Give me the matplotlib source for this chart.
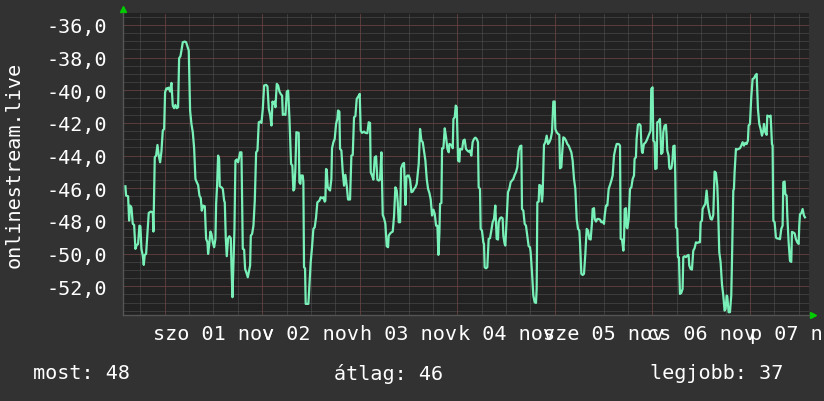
import numpy as np
import matplotlib
matplotlib.use("Agg")
import matplotlib.pyplot as plt
from matplotlib.ticker import FixedLocator, FuncFormatter

# === Data: hours since 01 nov 00:00 ===
hours = [
    -9.63, -9.46, -8.97, -8.72, -8.48, -8.15, -7.82, -7.49, -7.17, -6.84, -6.51, -6.18, -5.94, -5.69,
    -5.36, -5.12, -4.87, -4.54, -4.21, -3.89, -3.39, -2.90, -2.74, -2.41, -2.08, -1.75, -1.43, -1.10,
    -0.77, -0.44, -0.11, 0.13, 0.46, 0.71, 1.03, 1.36, 1.69, 2.02, 2.35, 2.67, 3.00, 3.33, 3.58, 3.90,
    4.15, 4.48, 4.97, 5.30, 5.63, 5.95, 6.28, 6.61, 6.94, 7.27, 7.59, 7.92, 8.25, 8.58, 8.91, 9.15,
    9.48, 9.89, 10.22, 10.55, 10.71, 11.04, 11.28, 11.53, 11.86, 12.19, 12.51, 12.68, 12.92, 13.17,
    13.42, 13.58, 13.99, 14.32, 14.65, 14.81, 15.06, 15.30, 15.63, 15.96, 16.29, 16.45, 16.70, 16.94,
    17.19, 17.43, 17.76, 18.09, 18.34, 18.58, 18.91, 19.24, 19.57, 19.81, 20.14, 20.47, 20.71, 21.04,
    21.21, 21.53, 21.86, 22.19, 22.52, 22.85, 23.17, 23.50, 23.83, 24.16, 24.49, 24.98, 25.31, 25.63,
    25.96, 26.29, 26.54, 26.78, 27.03, 27.27, 27.60, 27.93, 28.26, 28.59, 28.91, 29.08, 29.41, 29.73,
    30.06, 30.39, 30.72,
    31.11, 31.43, 31.68, 31.93, 32.17, 32.42, 32.99, 33.16, 33.40, 33.57, 33.98, 34.14, 34.30, 34.55,
    34.71, 35.37, 35.62, 35.94, 36.27, 36.60, 36.93, 37.26, 37.58, 38.08, 38.40, 38.73, 39.06, 39.39,
    39.55, 39.72, 39.88, 40.13, 40.37, 40.70, 41.03, 41.19, 41.52, 41.85, 42.18, 42.50, 42.67, 43.00,
    43.16, 43.49, 43.82, 44.14, 44.47, 44.80, 45.13, 45.62, 45.95, 46.28, 46.60, 46.93, 47.26, 47.67,
    48.00, 48.24, 48.57, 49.06, 49.39, 49.88, 50.21, 50.54, 50.70, 51.03, 51.36, 51.69, 52.02, 52.34,
    52.67, 53.00, 53.33, 53.66, 53.98, 54.31, 54.64, 54.97, 55.13, 55.62, 56.12, 56.44, 56.77, 57.10,
    57.35, 57.59, 57.92, 58.17, 58.58, 58.90, 59.23, 59.48, 59.72, 60.05, 60.38, 60.71, 61.04, 61.36,
    61.69, 62.02, 62.18, 62.51, 62.84, 63.17, 63.50, 63.82, 64.15, 64.48, 64.81, 65.14, 65.46, 65.79,
    66.12, 66.45, 66.78, 67.10, 67.35, 67.60, 67.76, 68.09, 68.25, 68.58, 68.91, 69.24, 69.56, 69.89,
    70.06, 70.55, 70.88, 71.04, 71.37, 71.61, 71.86, 72.19, 72.52, 72.68, 73.17,
    73.48, 73.81, 74.13, 74.46, 74.79, 75.12, 75.45, 75.77, 76.10, 76.43, 76.76, 77.09, 77.25, 77.58,
    77.74, 78.07, 78.40, 78.56, 78.73, 79.05, 79.38, 79.71, 80.04, 80.37, 80.69, 81.02, 81.35, 81.51,
    81.68, 82.01, 82.17, 82.50, 82.83, 83.15, 83.32, 83.65, 83.81, 84.14, 84.47, 84.79, 85.12, 85.45,
    85.78, 86.11, 86.43, 86.76, 87.09, 87.42, 87.75, 87.91, 88.24, 88.57, 88.89, 89.22, 89.55, 89.88,
    90.04, 90.37, 90.70, 91.03, 91.35, 91.52, 91.68, 92.01, 92.17, 92.50, 92.83, 92.99, 93.32, 93.65,
    93.98, 94.31, 94.63, 94.96, 95.29, 95.62, 95.95, 96.11, 96.44, 96.77, 97.09, 97.26, 97.59, 97.75,
    98.08, 98.41, 98.73, 99.06, 99.39, 99.72, 100.05, 100.37, 100.70, 101.03, 101.36, 101.69, 102.01,
    102.18, 102.51, 102.83, 103.16, 103.49, 103.82, 104.15, 104.47, 104.80, 105.13, 105.29, 105.62,
    105.79, 106.11, 106.44, 106.77, 107.10, 107.43, 107.75, 108.08, 108.25, 108.57, 108.90, 109.23,
    109.56, 109.89, 110.21, 110.54, 110.87, 111.20, 111.69, 112.02, 112.18, 112.51, 112.84, 113.00,
    113.17, 113.49, 113.66, 113.82, 114.15, 114.48, 114.81, 115.13, 115.46,
    115.60, 115.93, 116.10, 116.42, 116.75, 117.08, 117.24, 117.41, 117.57, 117.90, 118.23, 118.56,
    118.88, 119.21, 119.54, 119.70, 120.03, 120.20, 120.52, 120.69, 121.02, 121.18, 121.51, 121.84,
    122.16, 122.49, 122.66, 122.98, 123.31, 123.48, 123.64, 123.97, 124.13, 124.30, 124.62, 124.79,
    124.95, 125.12, 125.44, 125.61, 125.77, 126.10, 126.26, 126.51, 126.76, 127.08, 127.41, 127.58,
    127.90, 128.23, 128.56, 128.89, 129.05, 129.38, 129.71, 130.04, 130.36, 130.69, 131.02, 131.35,
    131.68, 131.84, 132.17, 132.33, 132.66, 132.99, 133.32, 133.64, 133.97, 134.30, 134.63, 134.96,
    135.12, 135.28, 135.61, 135.94, 136.10, 136.43, 136.76, 137.09, 137.42, 137.74, 137.99, 138.24,
    138.40, 138.73, 139.06, 139.38, 139.55, 139.88, 140.04, 140.20, 140.53, 140.86, 141.19, 141.52,
    141.84, 142.17, 142.50, 142.83, 143.16, 143.48, 143.65, 143.98, 144.30, 144.63, 144.96, 145.29,
    145.62, 145.94, 146.27, 146.60, 146.93, 147.26, 147.42, 147.75, 148.08, 148.24, 148.73, 149.06,
    149.39, 149.55, 149.72, 150.04, 150.37, 150.70, 151.03, 151.36, 151.68, 152.01, 152.18, 152.50,
    152.67, 153.00, 153.16, 153.49, 153.82, 154.14, 154.31, 154.64, 154.96, 155.29, 155.62, 155.95,
    156.11, 156.28, 156.60, 156.93, 157.26, 157.51,
]

values = [
    -45.88, -46.45, -46.49, -47.98, -47.06, -47.18, -48.18, -48.24, -49.71, -49.47, -49.41, -48.29, -48.33, -49.71,
    -50.12, -50.69, -50.08, -50.02, -48.73, -47.51, -47.43, -47.47, -48.65, -44.10, -44.00, -43.35, -44.00, -44.41,
    -43.75, -42.47, -42.37, -40.12, -39.88, -39.92, -39.84, -40.08, -39.55, -40.94, -41.10, -40.90, -41.10, -41.04, -38.04, -37.92,
    -37.57, -37.06, -37.02, -37.06, -37.31, -37.57, -41.24, -42.06, -42.57, -43.55, -45.43, -45.63, -45.80, -46.45, -46.61, -47.37,
    -47.06, -47.10, -49.10, -49.31, -50.02, -49.31, -48.65, -48.80, -49.31, -49.61, -49.10, -46.96, -45.84, -44.00,
    -44.20, -45.88, -45.94, -46.04, -46.76, -46.86, -49.10, -50.16, -49.06, -48.94, -49.06, -50.73, -52.67, -50.73,
    -48.49, -44.31, -44.24, -44.41, -44.10, -43.80, -43.80, -49.71, -49.76, -50.94, -51.18, -51.45, -51.14, -50.73,
    -48.90, -48.80, -48.29, -46.76, -43.80, -43.69, -41.96, -41.92, -42.00, -41.14, -39.71, -39.67, -39.76, -41.14,
    -41.51, -42.16, -40.69, -40.84, -40.69, -41.04, -39.61, -39.71, -40.08, -40.24, -40.33, -41.51, -41.47, -41.51,
    -40.08, -40.02, -41.76,
    -44.51, -44.61, -46.14, -46.04, -44.82, -42.57, -42.61, -45.63, -45.73, -45.22, -45.22, -45.63, -50.84, -50.90,
    -53.08, -53.08, -51.96, -50.53, -49.61, -48.49, -48.39, -47.78, -46.86, -46.76, -46.55, -46.61, -46.55, -46.82,
    -46.76, -44.82, -44.86, -45.94, -46.04, -46.14, -45.43, -43.55, -43.18, -42.98, -42.06, -41.76, -41.24, -41.31,
    -43.59, -43.69, -44.98, -45.84, -45.18, -45.84, -46.69, -46.69, -44.00, -43.96, -41.65, -41.59, -40.53, -40.37,
    -40.22, -42.47, -42.61, -42.53, -42.61, -42.63, -41.96, -42.00, -45.02, -45.22, -45.47, -44.10, -44.04, -45.47,
    -45.53, -45.47, -43.80, -47.63, -47.84, -48.18, -49.55, -49.61, -48.90, -48.73, -48.65, -47.71, -45.94, -46.14,
    -46.86, -48.08, -48.08, -44.78, -44.51, -44.45, -47.02, -45.33, -45.22, -45.22, -45.47, -46.24, -46.20, -46.04,
    -45.94, -45.73, -45.33, -44.51, -42.37, -43.08, -43.18, -43.75, -44.31, -45.43, -46.04, -46.29, -46.69, -47.67,
    -47.31, -47.57, -48.29, -48.29, -50.08, -48.73, -46.96, -46.90, -43.55, -43.55, -42.33, -42.88, -43.59, -43.80,
    -43.29, -43.35, -43.55, -41.76, -41.65, -40.94, -41.04, -44.31, -44.37, -43.59, -43.63,
    -43.08, -43.02, -43.59, -43.69, -43.76, -43.69, -44.00, -43.18, -42.98, -42.90, -42.98, -43.18, -45.94, -46.04,
    -48.49, -48.59, -49.31, -49.41, -50.84, -50.90, -50.84, -49.10, -49.06, -48.59, -48.08, -47.88, -47.06, -48.08,
    -49.10, -49.14, -48.08, -47.84, -47.78, -47.84, -48.90, -49.41, -49.51, -47.88, -46.24, -46.04, -45.63, -45.53,
    -45.43, -45.18, -45.02, -44.71, -43.69, -43.43, -43.39, -47.27, -47.37, -48.18, -48.29, -48.90, -49.55, -49.61,
    -49.92, -51.14, -52.57, -52.98, -53.02, -52.16, -46.86, -46.82, -45.80, -45.84, -46.82, -46.35, -43.35, -43.18,
    -42.78, -43.29, -43.18, -42.98, -42.57, -40.69, -40.69, -42.37, -42.57, -42.67, -42.73, -44.78, -44.71, -44.00,
    -42.88, -42.94, -43.08, -43.29, -43.39, -43.59, -43.80, -44.31, -45.43, -46.04, -47.88, -48.49, -48.59,
    -49.31, -51.24, -51.31, -51.24, -50.02, -48.49, -48.59, -49.10, -49.14, -48.08, -47.27, -47.22,
    -47.88, -48.04, -47.88, -47.88, -47.92, -48.08, -48.04, -48.18, -47.67, -47.06, -47.06, -46.04,
    -45.80, -45.53, -45.22, -44.00, -43.59, -43.29, -43.29, -43.39, -49.10, -49.14, -49.82, -49.20,
    -47.27, -47.22, -48.39, -48.45, -47.88, -46.04, -45.94, -45.43, -45.22,
    -44.20, -44.10, -42.98, -42.12, -42.06, -42.16, -43.18, -43.75, -43.84, -43.29, -43.22, -43.08,
    -42.88, -42.67, -42.47, -39.92, -39.82, -43.08, -43.18, -44.82, -44.78, -41.96, -41.92, -41.76,
    -43.90, -43.80, -42.57, -42.16, -42.12, -42.78, -43.69, -44.00, -44.71, -44.82, -44.78, -44.57,
    -44.20, -43.43, -43.39, -45.22, -48.39, -48.49, -50.22, -50.22, -52.47, -52.41, -52.16, -50.22,
    -50.16, -50.22, -50.12, -50.08, -50.73, -50.94, -50.98, -49.82, -49.67, -49.31, -49.35, -49.31,
    -49.31, -48.08, -47.98, -47.27, -47.10, -46.96, -46.14, -47.06, -47.51, -47.88, -47.92, -47.63,
    -46.24, -44.98, -45.06, -45.84, -46.86, -49.92, -50.53, -51.86, -52.57, -53.49, -53.39, -52.57,
    -52.61, -53.59, -53.59, -52.57, -50.53, -46.14, -46.04, -45.02, -43.59, -43.63, -43.59, -43.55,
    -43.39, -43.18, -43.39, -43.22, -43.29, -43.08, -42.16, -42.06, -40.43, -39.31, -39.27, -39.10,
    -39.00, -41.14, -42.06, -42.37, -42.78, -42.47, -42.06, -42.57, -42.73, -41.55, -41.61, -41.55,
    -43.29, -43.39, -47.98, -48.08, -49.02, -49.08, -49.08, -49.12, -48.49, -48.29, -45.63, -45.59,
    -46.35, -46.45, -47.67, -49.31, -50.45, -50.51, -48.67, -48.71, -48.76, -49.12, -49.31, -49.41,
    -48.29, -47.59, -47.53, -47.27, -47.67, -47.78,
]

day_hours = [12, 36, 60, 84, 108, 132, 156]
day_labels = ["szo 01 nov", "v 02 nov", "h 03 nov", "k 04 nov", "sze 05 nov", "cs 06 nov", "p 07 nov"]
y_title = "onlinestream.live"

# === Couleurs style rrdtool sombre ===
BG = "#323232"
PLOT_BG = "#222222"
LINE = "#78f0b8"
MINOR = "#555555"
MAJOR = "#7a3c3c"
AXIS = "#555555"
ARROW = "#00cc00"
FONT = "DejaVu Sans Mono"
FS = 14.5

W, H = 824, 402
x0, x1, y0, y1 = 123.5, 809, 14, 316

fig = plt.figure(figsize=(W / 100, H / 100), dpi=100, facecolor=BG)
ax = fig.add_axes([x0 / W, 1 - y1 / H, (x1 - x0) / W, (y1 - y0) / H])
ax.set_facecolor(PLOT_BG)
ax.set_xlim(-10.1, 158.5)
ax.set_ylim(-53.76, -35.27)

# grille
dots = (0, (1, 1))
for y in np.arange(-53.5, -35.2, 0.5):
    ax.axhline(y, color=MINOR, lw=0.72, ls=dots, zorder=1)
for x in np.arange(-6, 158, 6):
    ax.axvline(x, color=MINOR, lw=0.72, ls=dots, zorder=1)
for y in np.arange(-52, -35, 2):
    ax.axhline(y, color=MAJOR, lw=0.72, ls=dots, zorder=1.5)
for x in np.arange(0, 158, 24):
    ax.axvline(x, color=MAJOR, lw=0.72, ls=dots, zorder=1.5)

ax.plot(hours, values, color=LINE, lw=1.6, zorder=3)

# axes
for side in ["top", "right"]:
    ax.spines[side].set_visible(False)
for side in ["left", "bottom"]:
    ax.spines[side].set_color(AXIS)
    ax.spines[side].set_linewidth(1)

ax.yaxis.set_major_locator(FixedLocator(np.arange(-52, -35, 2)))
ax.yaxis.set_major_formatter(FuncFormatter(lambda v, p: f"{v:.1f}".replace(".", ",")))
ax.xaxis.set_major_locator(FixedLocator(day_hours))
ax.set_xticklabels(day_labels)
ax.tick_params(axis="y", length=0, pad=11.5, labelsize=FS, labelcolor="white")
ax.tick_params(axis="x", length=0, pad=6.5, labelsize=FS, labelcolor="white")
for lab in ax.get_xticklabels() + ax.get_yticklabels():
    lab.set_family(FONT)

# petites flèches vertes
ax.plot([0], [1.013], marker="^", color=ARROW, ms=4, transform=ax.transAxes, clip_on=False)
ax.plot([1.006], [0], marker=">", color=ARROW, ms=4, transform=ax.transAxes, clip_on=False)

fig.text(14 / W, 1 - 165 / H, y_title, rotation=90, ha="center", va="center",
         color="white", fontsize=FS, family=FONT)

# légende du bas
grid_t = np.arange(hours[0], hours[-1], 0.5)
mean_v = np.interp(grid_t, hours, values).mean()
fig.text(33 / W, 1 - 374 / H, f"most: {abs(values[-1]):.0f}", va="center",
         color="white", fontsize=FS, family=FONT)
fig.text(334 / W, 1 - 374 / H, f"átlag: {abs(mean_v):.0f}", va="center",
         color="white", fontsize=FS, family=FONT)
fig.text(650 / W, 1 - 374 / H, f"legjobb: {abs(max(values)):.0f}", va="center",
         color="white", fontsize=FS, family=FONT)

fig.savefig("out.png", dpi=100, facecolor=BG)
